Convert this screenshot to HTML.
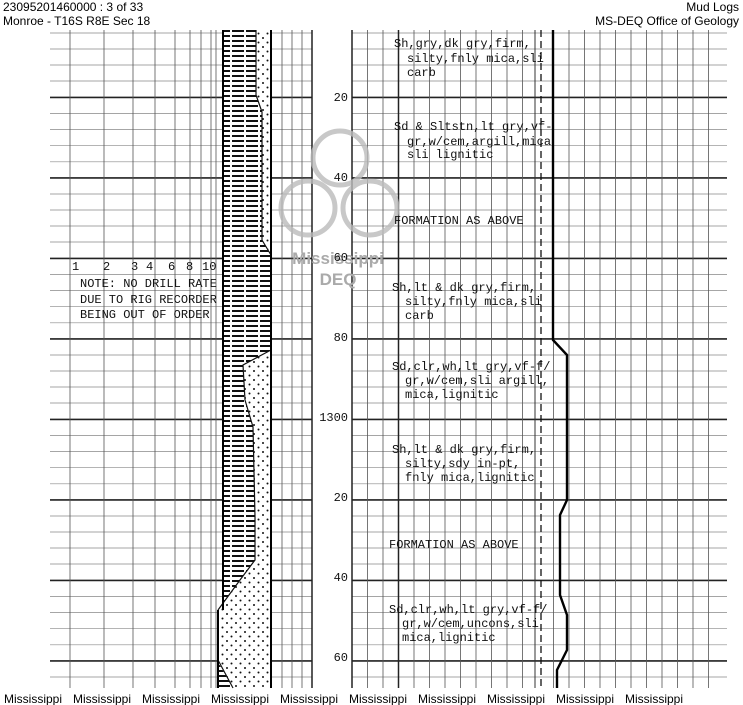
<!DOCTYPE html>
<html><head><meta charset="utf-8"><style>
html,body{margin:0;padding:0;background:#fff;}
body{width:743px;height:705px;overflow:hidden;position:relative;font-family:"Liberation Sans",sans-serif;}
.h{position:absolute;font-size:12px;color:#000;line-height:14px;}
svg{position:absolute;left:0;top:0;}
</style></head><body>
<div class="h" style="left:3px;top:0px">23095201460000 : 3 of 33</div>
<div class="h" style="left:3px;top:14px">Monroe - T16S R8E Sec 18</div>
<div class="h" style="right:4px;top:0px">Mud Logs</div>
<div class="h" style="right:4px;top:14px">MS-DEQ Office of Geology</div>
<svg width="743" height="705" viewBox="0 0 743 705" xmlns="http://www.w3.org/2000/svg">
<defs>
<pattern id="sh" width="14" height="5" patternUnits="userSpaceOnUse">
<rect width="14" height="5" fill="#fff"/><rect y="0" width="14" height="2" fill="#111"/><rect x="6" y="0" width="2" height="2" fill="#fff"/>
</pattern>
<pattern id="sd" width="9" height="9" patternUnits="userSpaceOnUse">
<rect width="9" height="9" fill="#fff"/><circle cx="2" cy="2" r="1" fill="#111"/><circle cx="6.5" cy="6.5" r="1" fill="#111"/>
</pattern>
</defs>
<path fill="none" stroke="#888" stroke-width="0.7" d="
M50 33H222M271 33H312M352 33H727
M50 49H222M271 49H312M352 49H727
M50 65H222M271 65H312M352 65H727
M50 81H222M271 81H312M352 81H727
M50 113.5H222M271 113.5H312M352 113.5H727
M50 129.6H222M271 129.6H312M352 129.6H727
M50 145.7H222M271 145.7H312M352 145.7H727
M50 161.8H222M271 161.8H312M352 161.8H727
M50 194H222M271 194H312M352 194H727
M50 210H222M271 210H312M352 210H727
M50 226H222M271 226H312M352 226H727
M50 242H222M271 242H312M352 242H727
M50 274.5H222M271 274.5H312M352 274.5H727
M50 290.6H222M271 290.6H312M352 290.6H727
M50 306.7H222M271 306.7H312M352 306.7H727
M50 322.8H222M271 322.8H312M352 322.8H727
M50 355H222M271 355H312M352 355H727
M50 371H222M271 371H312M352 371H727
M50 387H222M271 387H312M352 387H727
M50 403H222M271 403H312M352 403H727
M50 435.5H222M271 435.5H312M352 435.5H727
M50 451.6H222M271 451.6H312M352 451.6H727
M50 467.7H222M271 467.7H312M352 467.7H727
M50 483.8H222M271 483.8H312M352 483.8H727
M50 516H222M271 516H312M352 516H727
M50 532H222M271 532H312M352 532H727
M50 548H222M271 548H312M352 548H727
M50 564H222M271 564H312M352 564H727
M50 596.5H222M271 596.5H312M352 596.5H727
M50 612.6H222M271 612.6H312M352 612.6H727
M50 628.7H222M271 628.7H312M352 628.7H727
M50 644.8H222M271 644.8H312M352 644.8H727
M50 677H222M271 677H312M352 677H727"/>
<path fill="none" stroke="#222" stroke-width="1.6" d="
M50 97.4H222M271 97.4H312M352 97.4H727
M50 177.9H222M271 177.9H312M352 177.9H727
M50 258.4H222M271 258.4H312M352 258.4H727
M50 338.9H222M271 338.9H312M352 338.9H727
M50 419.4H222M271 419.4H312M352 419.4H727
M50 499.9H222M271 499.9H312M352 499.9H727
M50 580.4H222M271 580.4H312M352 580.4H727
M50 660.9H222M271 660.9H312M352 660.9H727"/>
<path fill="none" stroke="#555" stroke-width="0.8" d="
M70 30V688M104 30V688M133 30V688M155 30V688M175 30V688M190 30V688M201 30V688M211 30V688M216 30V688
M282 30V688M292 30V688M302 30V688
M367.5 30V688M383 30V688M414 30V688M429.5 30V688M445 30V688M460.5 30V688M476 30V688M491.5 30V688M507 30V688M522.5 30V688
M553.5 30V688M569 30V688M584.5 30V688M600 30V688M615.5 30V688M631 30V688M646.5 30V688M662 30V688M677.5 30V688M693 30V688M708.5 30V688"/>
<path fill="none" stroke="#222" stroke-width="1.5" d="M312 30V688M352 30V688M398.5 30V688"/>
<line x1="535" y1="30" x2="535" y2="688" stroke="#333" stroke-width="1"/>
<line x1="541" y1="30" x2="541" y2="688" stroke="#111" stroke-width="1.3" stroke-dasharray="7,4"/>
<polygon points="223,30 256,30 256,95 262,112 262,240 271,255 271,350 243,365 245,400 253,427 255,517 255,560 240,580 218,610 223,610" fill="url(#sh)"/>
<polygon points="218,660 233,688 218,688" fill="url(#sh)"/>
<polygon points="256,30 271,30 271,255 262,240 262,112 256,95" fill="url(#sd)"/>
<polygon points="271,350 271,688 233,688 218,662 218,610 240,580 255,560 255,517 253,427 245,400 243,365" fill="url(#sd)"/>
<polyline points="256,30 256,95 262,112 262,240 271,255" fill="none" stroke="#111" stroke-width="1.2"/>
<polyline points="271,350 243,365 245,400 253,427 255,517 255,560 240,580 218,610" fill="none" stroke="#111" stroke-width="1.2"/>
<polyline points="218,660 233,688" fill="none" stroke="#111" stroke-width="1.2"/>
<line x1="223" y1="30" x2="223" y2="610" stroke="#000" stroke-width="2"/>
<line x1="218" y1="610" x2="218" y2="688" stroke="#000" stroke-width="2"/>
<line x1="271" y1="30" x2="271" y2="688" stroke="#000" stroke-width="2"/>
<polyline points="553,30 553,340 567,355 567,500 560,515 560,595 567,615 567,650 557,670 557,688" fill="none" stroke="#000" stroke-width="2.4"/>
<g fill="none" stroke="#bbb" stroke-width="5" opacity="0.8">
<circle cx="340" cy="158" r="27"/><circle cx="308" cy="208" r="27"/><circle cx="370" cy="208" r="27"/>
</g>
<text x="338" y="264" text-anchor="middle" font-family="Liberation Sans" font-weight="bold" font-size="17" fill="#aaa">Mississippi</text>
<text x="338" y="285" text-anchor="middle" font-family="Liberation Sans" font-weight="bold" font-size="17" fill="#aaa">DEQ</text>
<g font-family="Liberation Mono" font-size="12" fill="#111">
<text x="348" y="101" text-anchor="end">20</text>
<text x="348" y="181" text-anchor="end">40</text>
<text x="348" y="261" text-anchor="end">60</text>
<text x="348" y="341" text-anchor="end">80</text>
<text x="348" y="421" text-anchor="end">1300</text>
<text x="348" y="501" text-anchor="end">20</text>
<text x="348" y="581" text-anchor="end">40</text>
<text x="348" y="661" text-anchor="end">60</text>
<text x="72" y="270">1</text><text x="103" y="270">2</text><text x="131" y="270">3</text><text x="146" y="270">4</text><text x="168" y="270">6</text><text x="186" y="270">8</text><text x="202" y="270">10</text>
<text x="80" y="287">NOTE: NO DRILL RATE</text>
<text x="80" y="303">DUE TO RIG RECORDER</text>
<text x="80" y="318">BEING OUT OF ORDER</text>
<text x="394" y="47">Sh,gry,dk gry,firm,</text>
<text x="407" y="62">silty,fnly mica,sli</text>
<text x="407" y="76">carb</text>
<text x="394" y="130">Sd &amp; Sltstn,lt gry,vf-</text>
<text x="407" y="145">gr,w/cem,argill,mica</text>
<text x="407" y="158">sli lignitic</text>
<text x="394" y="224">FORMATION AS ABOVE</text>
<text x="392" y="291">Sh,lt &amp; dk gry,firm,</text>
<text x="405" y="305">silty,fnly mica,sli</text>
<text x="405" y="319">carb</text>
<text x="392" y="370">Sd,clr,wh,lt gry,vf-f/</text>
<text x="405" y="384">gr,w/cem,sli argill,</text>
<text x="405" y="398">mica,lignitic</text>
<text x="392" y="453">Sh,lt &amp; dk gry,firm,</text>
<text x="405" y="467">silty,sdy in-pt,</text>
<text x="405" y="481">fnly mica,lignitic</text>
<text x="389" y="548">FORMATION AS ABOVE</text>
<text x="389" y="613">Sd,clr,wh,lt gry,vf-f/</text>
<text x="402" y="627">gr,w/cem,uncons,sli</text>
<text x="402" y="641">mica,lignitic</text>
</g>
<g font-family="Liberation Sans" font-size="12" fill="#000">
<text x="4" y="703">Mississippi</text><text x="73" y="703">Mississippi</text><text x="142" y="703">Mississippi</text><text x="211" y="703">Mississippi</text><text x="280" y="703">Mississippi</text><text x="349" y="703">Mississippi</text><text x="418" y="703">Mississippi</text><text x="487" y="703">Mississippi</text><text x="556" y="703">Mississippi</text><text x="625" y="703">Mississippi</text>
</g>
</svg>
</body></html>
